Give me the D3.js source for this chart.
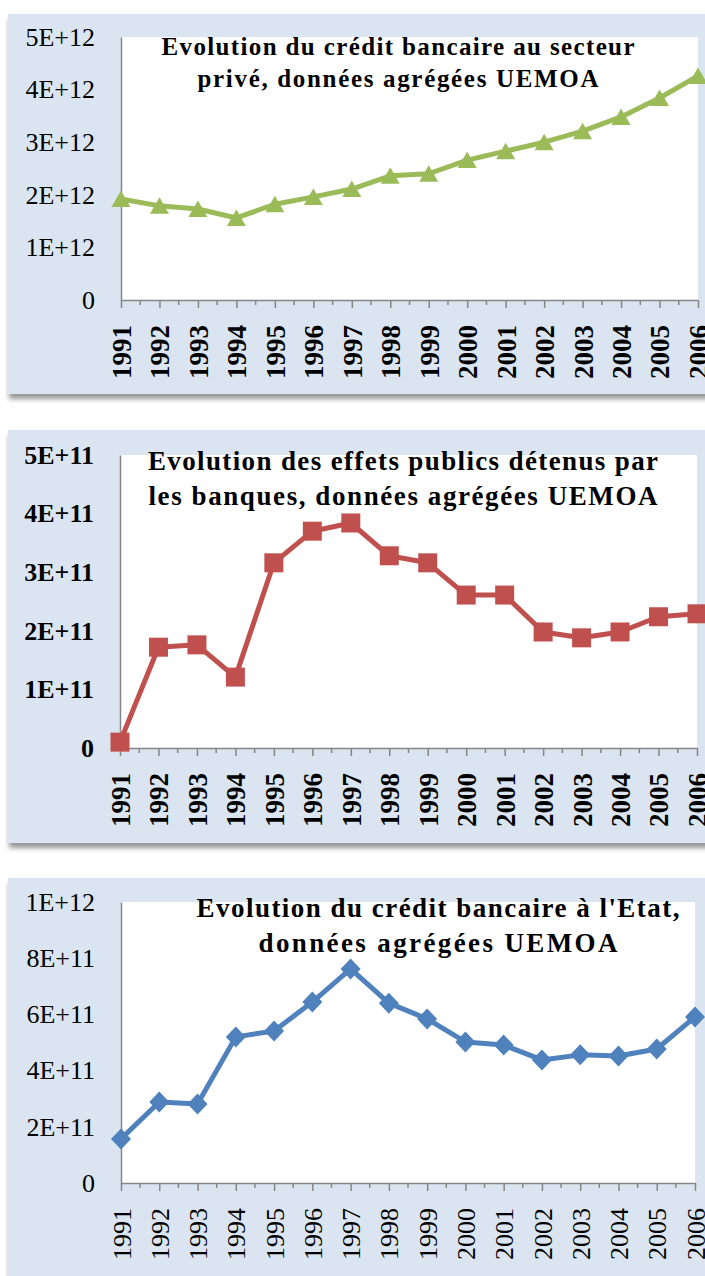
<!DOCTYPE html>
<html>
<head>
<meta charset="utf-8">
<script src="https://cdn.jsdelivr.net/npm/d3@7"></script>
<style>
  html, body { margin: 0; padding: 0; background: #ffffff; }
  svg { display: block; }
</style>
</head>
<body>
<svg id="chart" width="705" height="1276"></svg>
<script>
// Années communes aux trois séries
const years = ["1991","1992","1993","1994","1995","1996","1997","1998",
               "1999","2000","2001","2002","2003","2004","2005","2006"];

// Crédit bancaire au secteur privé (FCFA)
const creditPrive = [1.92e12, 1.79e12, 1.73e12, 1.56e12, 1.82e12, 1.96e12, 2.11e12, 2.36e12,
                     2.40e12, 2.66e12, 2.83e12, 3.00e12, 3.21e12, 3.48e12, 3.84e12, 4.26e12];

// Effets publics détenus par les banques (FCFA)
const effetsPublics = [0.10e11, 1.72e11, 1.76e11, 1.21e11, 3.16e11, 3.70e11, 3.84e11, 3.28e11,
                       3.16e11, 2.61e11, 2.61e11, 1.98e11, 1.88e11, 1.98e11, 2.24e11, 2.29e11];

// Crédit bancaire à l'Etat (FCFA)
const creditEtat = [1.57e11, 2.88e11, 2.81e11, 5.20e11, 5.41e11, 6.44e11, 7.62e11, 6.40e11,
                    5.84e11, 5.02e11, 4.91e11, 4.38e11, 4.56e11, 4.52e11, 4.77e11, 5.91e11];

// Graduations des axes verticaux
const ticksPrive = [0, 1e12, 2e12, 3e12, 4e12, 5e12];
const labelsPrive = ["0", "1E+12", "2E+12", "3E+12", "4E+12", "5E+12"];
const ticksEffets = [0, 1e11, 2e11, 3e11, 4e11, 5e11];
const labelsEffets = ["0", "1E+11", "2E+11", "3E+11", "4E+11", "5E+11"];
const ticksEtat = [0, 2e11, 4e11, 6e11, 8e11, 1e12];
const labelsEtat = ["0", "2E+11", "4E+11", "6E+11", "8E+11", "1E+12"];

// Titres
const titlePrive = ["Evolution du crédit bancaire au secteur", "privé, données agrégées UEMOA"];
const titleEffets = ["Evolution des effets publics détenus par", "les banques, données agrégées UEMOA"];
const titleEtat = ["Evolution du crédit bancaire à l'Etat,", "données agrégées UEMOA"];

const FONT = "'Liberation Serif', 'Times New Roman', serif";
const svg = d3.select("#chart");

// Ombre portée des cadres
const defs = svg.append("defs");
const shadow = defs.append("filter").attr("id", "shadow")
  .attr("x", "-5%").attr("y", "-5%").attr("width", "110%").attr("height", "115%");
shadow.append("feDropShadow")
  .attr("dx", 1).attr("dy", 5).attr("stdDeviation", 2.5)
  .attr("flood-color", "#404040").attr("flood-opacity", 0.55);

const panels = [
  {
    values: creditPrive, ticks: ticksPrive, labels: labelsPrive, title: titlePrive,
    color: "#9bbb59", marker: "triangle",
    bg: { y: 14, h: 380 }, plot: { left: 121, right: 698, top: 37, bottom: 300 },
    yBold: false, xBold: true, yFont: 26, xFont: 27,
    titleFont: 25, titleX: 398, titleY: [55, 87], titleWidth: [473, 401]
  },
  {
    values: effetsPublics, ticks: ticksEffets, labels: labelsEffets, title: titleEffets,
    color: "#c0504d", marker: "square",
    bg: { y: 430, h: 413 }, plot: { left: 120, right: 697, top: 455, bottom: 748 },
    yBold: true, xBold: true, yFont: 26, xFont: 27,
    titleFont: 27, titleX: 403, titleY: [470, 505], titleWidth: [510, 509]
  },
  {
    values: creditEtat, ticks: ticksEtat, labels: labelsEtat, title: titleEtat,
    color: "#4f81bd", marker: "diamond",
    bg: { y: 878, h: 420 }, plot: { left: 121, right: 695, top: 902, bottom: 1183 },
    yBold: false, xBold: false, yFont: 26, xFont: 26,
    titleFont: 27, titleX: 438, titleY: [917, 952], titleWidth: [483, 359]
  }
];

function markerPath(type) {
  if (type === "triangle") return "M0,-8.5L9.5,8L-9.5,8Z";
  if (type === "square") return "M-9.5,-9.5H9.5V9.5H-9.5Z";
  return "M0,-10.5L10,0L0,10.5L-10,0Z";
}

panels.forEach(p => {
  const g = svg.append("g");

  // Fond du graphique
  g.append("rect")
    .attr("x", 8).attr("y", p.bg.y)
    .attr("width", 720).attr("height", p.bg.h)
    .attr("fill", "#dbe5f1")
    .attr("filter", "url(#shadow)");

  // Zone de tracé
  g.append("rect")
    .attr("x", p.plot.left).attr("y", p.plot.top)
    .attr("width", p.plot.right - p.plot.left)
    .attr("height", p.plot.bottom - p.plot.top)
    .attr("fill", "#ffffff");

  const x = d3.scalePoint().domain(years).range([p.plot.left, p.plot.right]);
  const y = d3.scaleLinear().domain([0, p.ticks[p.ticks.length - 1]])
    .range([p.plot.bottom, p.plot.top]);

  // Axe vertical
  const yAxis = g.append("g")
    .attr("transform", `translate(${p.plot.left},0)`)
    .call(d3.axisLeft(y).tickValues(p.ticks).tickSize(0).tickPadding(26)
      .tickFormat((d, i) => p.labels[i]));
  yAxis.select(".domain").attr("stroke", "#868686").attr("stroke-width", 1.5);
  yAxis.selectAll("text")
    .attr("font-family", FONT).attr("font-size", p.yFont)
    .attr("font-weight", p.yBold ? "bold" : "normal")
    .attr("fill", "#000");

  // Graduations secondaires entre les années
  const mids = d3.pairs(years).map(([a, b]) => (x(a) + x(b)) / 2);
  g.append("g").selectAll("line").data(mids).join("line")
    .attr("x1", d => d).attr("x2", d => d)
    .attr("y1", p.plot.bottom).attr("y2", p.plot.bottom + 5)
    .attr("stroke", "#868686").attr("stroke-width", 1.5);

  // Axe horizontal
  const xAxis = g.append("g")
    .attr("transform", `translate(0,${p.plot.bottom})`)
    .call(d3.axisBottom(x).tickSize(8).tickPadding(0).tickSizeOuter(0));
  xAxis.select(".domain").attr("stroke", "#868686").attr("stroke-width", 1.5);
  xAxis.selectAll(".tick line").attr("stroke", "#868686").attr("stroke-width", 1.5);
  xAxis.selectAll("text")
    .attr("transform", "rotate(-90)")
    .attr("text-anchor", "end")
    .attr("x", -25).attr("y", 0).attr("dy", "0.35em")
    .attr("font-family", FONT).attr("font-size", p.xFont)
    .attr("font-weight", p.xBold ? "bold" : "normal")
    .attr("fill", "#000");

  // Titre (deux lignes centrées)
  p.title.forEach((line, i) => {
    g.append("text")
      .attr("x", p.titleX).attr("y", p.titleY[i])
      .attr("font-family", FONT).attr("font-size", p.titleFont)
      .attr("font-weight", "bold").attr("text-anchor", "middle").attr("fill", "#000")
      .attr("textLength", p.titleWidth[i]).attr("lengthAdjust", "spacing")
      .text(line);
  });

  // Courbe
  const line = d3.line().x((d, i) => x(years[i])).y(d => y(d));
  g.append("path")
    .datum(p.values)
    .attr("d", line)
    .attr("fill", "none")
    .attr("stroke", p.color)
    .attr("stroke-width", 5)
    .attr("stroke-linejoin", "round");

  // Marqueurs
  g.append("g").selectAll("path").data(p.values).join("path")
    .attr("transform", (d, i) => `translate(${x(years[i])},${y(d)})`)
    .attr("d", markerPath(p.marker))
    .attr("fill", p.color);
});
</script>
</body>
</html>
